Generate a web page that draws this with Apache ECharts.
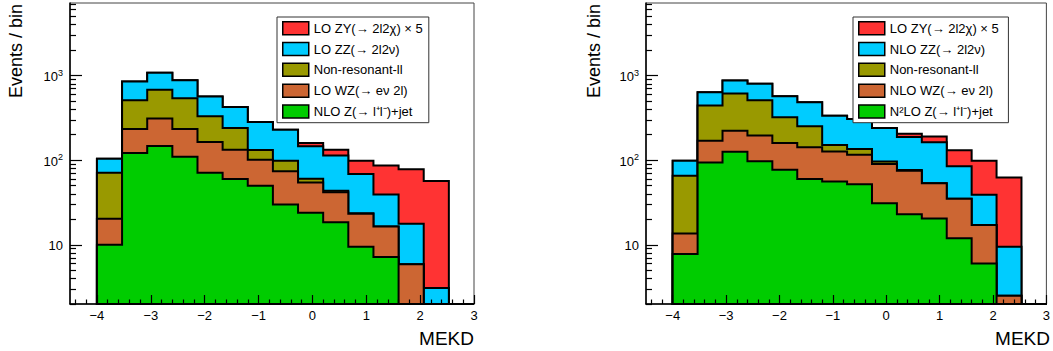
<!DOCTYPE html>
<html>
<head>
<meta charset="utf-8">
<script src="https://cdn.jsdelivr.net/npm/echarts@6/dist/echarts.min.js"></script>
<style>
  html, body { margin: 0; padding: 0; background: #fff; }
  #chart { width: 1053px; height: 351px; }
</style>
</head>
<body>
<div id="chart"></div>
<script>
// 15 bins from -4 to 3 in MEKD
const binEdges = Array.from({ length: 16 }, (_, i) => -4 + i * 7 / 15);

// left panel (per-process events per bin, stacked bottom -> top)
const zjetA   = [10, 122, 147, 110, 71, 60, 50, 30, 24, 18.5, 9.5, 7.2, 0, 0, 0];
const wzA     = [10.3, 112, 163, 124, 93, 73, 51, 44, 30.6, 23.3, 13.8, 9.3, 5.9, 0, 0];
const nonresA = [51, 277, 372, 304, 166, 107, 31, 24.6, 5.8, 1.7, 0.3, 0, 0, 0, 0];
const zzA     = [33, 338, 394, 341, 234, 186, 151, 131, 85.6, 70.5, 45.1, 22.9, 11.9, 3.1, 0];
const zyA     = [0, 0, 0, 0, 0, 0, 0, 0, 14, 19, 29.9, 47.3, 60.2, 53.7, 0];

// right panel
const zjetB   = [7.8, 94, 126, 97, 77, 60, 56, 52, 31, 23, 20.5, 12, 6, 0, 0];
const wzB     = [5.8, 76, 97, 99, 83, 82, 71, 64, 59, 52, 33, 23, 11.2, 2.5, 0];
const nonresB = [52, 272, 389, 315, 161, 109, 24, 20, 6.6, 1.4, 0, 0, 0, 0, 0];
const zzB     = [33, 192, 261, 287, 248, 232, 185, 171, 143, 111, 110, 50, 22, 7, 0];
const zyB     = [0, 0, 0, 0, 0, 0, 0, 0, 0, 18, 27, 46, 59.5, 53, 0];

// legend labels, top -> bottom
const namesA = ['LO ZY(→ 2l2χ) × 5', 'LO ZZ(→ 2l2ν)', 'Non-resonant-ll', 'LO WZ(→ eν 2l)', 'NLO Z(→ l⁺l⁻)+jet'];
const namesB = ['LO ZY(→ 2l2χ) × 5 ', 'NLO ZZ(→ 2l2ν)', 'Non-resonant-ll ', 'NLO WZ(→ eν 2l)', 'N²LO Z(→ l⁺l⁻)+jet'];
const colors = ['#ff3333', '#00ccff', '#999900', '#cc6633', '#00cc00'];

const xMajor = [-4, -3, -2, -1, 0, 1, 2, 3];
const xMinor = [];
for (let k = -22; k <= 15; k++) if (k % 5 !== 0) xMinor.push(k / 5);
const yMajor = [10, 100, 1000];
const yMinor = [2, 3, 4, 5, 6, 7, 8, 9, 20, 30, 40, 50, 60, 70, 80, 90, 200, 300, 400, 500, 600, 700, 800, 900, 2000, 3000, 4000, 5000, 6000, 7000];
const yMin = 2, yMax = 7200;

const font = 'Liberation Sans, Arial, sans-serif';

function stack(layers) {
  // layers bottom -> top, returns cumulative arrays in same order
  const out = [];
  let run = new Array(layers[0].length).fill(0);
  layers.forEach(l => {
    run = run.map((v, i) => v + l[i]);
    out.push(run.slice());
  });
  return out;
}

function stepItem(cum, color) {
  return function (params, api) {
    const pts = [api.coord([binEdges[0], yMin])];
    cum.forEach((v, i) => {
      const y = Math.max(v, yMin);
      pts.push(api.coord([binEdges[i], y]));
      pts.push(api.coord([binEdges[i + 1], y]));
    });
    pts.push(api.coord([binEdges[binEdges.length - 1], yMin]));
    return {
      type: 'polygon',
      shape: { points: pts },
      style: { fill: color, stroke: '#000', lineWidth: 2, lineJoin: 'miter' }
    };
  };
}

function panelSeries(p, layers, names) {
  const cum = stack(layers);          // green, orange, olive, blue, red
  const out = [];
  for (let k = 4; k >= 0; k--) {      // draw the total first so lower layers lie on top
    const idx = 4 - k;                // names / colors are listed top -> bottom
    out.push({
      type: 'custom',
      name: names[idx],
      xAxisIndex: 2 * p,
      yAxisIndex: 2 * p,
      data: [[binEdges[0], yMin]],
      encode: { x: 0, y: 1 },
      itemStyle: { color: colors[idx], borderColor: '#000', borderWidth: 1.5 },
      renderItem: stepItem(cum[k], colors[idx]),
      silent: true,
      animation: false
    });
  }
  return out;
}

function xAxes(p) {
  return [
    {
      type: 'value', gridIndex: p, min: -4.5, max: 3, position: 'bottom', z: 10,
      axisLine: { show: true, onZero: false, lineStyle: { color: '#000', width: 1.5 } },
      axisTick: { show: true, inside: true, length: 9, customValues: xMajor, lineStyle: { color: '#000', width: 1.2 } },
      axisLabel: {
        customValues: xMajor, margin: 5, fontSize: 13, color: '#000', fontFamily: font,
        formatter: v => String(v).replace('-', '\u2212')
      },
      splitLine: { show: false }
    },
    {
      type: 'value', gridIndex: p, min: -4.5, max: 3, position: 'bottom', z: 10,
      axisLine: { show: false, onZero: false },
      axisTick: { show: true, inside: true, length: 4.5, customValues: xMinor, lineStyle: { color: '#000', width: 1.2 } },
      axisLabel: { show: false },
      splitLine: { show: false }
    }
  ];
}

function yAxes(p) {
  return [
    {
      type: 'log', logBase: 10, gridIndex: p, min: yMin, max: yMax, position: 'left', z: 10,
      axisLine: { show: true, onZero: false, lineStyle: { color: '#000', width: 1.5 } },
      axisTick: { show: true, inside: true, length: 12, customValues: yMajor, lineStyle: { color: '#000', width: 1.2 } },
      axisLabel: {
        customValues: yMajor, margin: 7, color: '#000', fontFamily: font,
        formatter: v => {
          const e = Math.round(Math.log10(v));
          return e === 1 ? '{b|10}' : '{b|10}{sup|' + e + '}';
        },
        rich: {
          b: { fontSize: 13, fontFamily: font, color: '#000', lineHeight: 15, verticalAlign: 'bottom' },
          sup: { fontSize: 9, fontFamily: font, color: '#000', lineHeight: 9, verticalAlign: 'top' }
        }
      },
      splitLine: { show: false }
    },
    {
      type: 'log', logBase: 10, gridIndex: p, min: yMin, max: yMax, position: 'left', z: 10,
      axisLine: { show: false, onZero: false },
      axisTick: { show: true, inside: true, length: 6, customValues: yMinor, lineStyle: { color: '#000', width: 1.2 } },
      axisLabel: { show: false },
      splitLine: { show: false }
    }
  ];
}

function legendFor(left, names) {
  return {
    left: left, top: 17, orient: 'vertical', align: 'left',
    data: names,
    icon: 'rect', itemWidth: 26, itemHeight: 13, itemGap: 6.3,
    padding: [4, 6, 4, 5],
    backgroundColor: '#fff', borderColor: '#333', borderWidth: 1, borderRadius: 0,
    selectedMode: false,
    itemStyle: { borderColor: '#000', borderWidth: 1.5 },
    textStyle: { fontSize: 13, fontFamily: font, color: '#000' }
  };
}

const chart = echarts.init(document.getElementById('chart'), null, { renderer: 'svg' });
chart.setOption({
  animation: false,
  backgroundColor: '#fff',
  grid: [
    { left: 70, top: 3, width: 404, height: 301, show: true, borderColor: '#444', borderWidth: 1 },
    { left: 646, top: 3, width: 403, height: 301, show: true, borderColor: '#444', borderWidth: 1 }
  ],
  xAxis: xAxes(0).concat(xAxes(1)),
  yAxis: yAxes(0).concat(yAxes(1)),
  legend: [legendFor(277, namesA), legendFor(853, namesB)],
  series: panelSeries(0, [zjetA, wzA, nonresA, zzA, zyA], namesA)
    .concat(panelSeries(1, [zjetB, wzB, nonresB, zzB, zyB], namesB)),
  graphic: [
    { type: 'text', x: 16, y: 4, rotation: Math.PI / 2, style: { text: 'Events / bin', align: 'right', verticalAlign: 'middle', fontSize: 18, fontFamily: font, fill: '#000' } },
    { type: 'text', x: 594, y: 4, rotation: Math.PI / 2, style: { text: 'Events / bin', align: 'right', verticalAlign: 'middle', fontSize: 18, fontFamily: font, fill: '#000' } },
    { type: 'text', x: 474, y: 338, style: { text: 'MEKD', align: 'right', verticalAlign: 'middle', fontSize: 19, fontFamily: font, fill: '#000' } },
    { type: 'text', x: 1050, y: 338, style: { text: 'MEKD', align: 'right', verticalAlign: 'middle', fontSize: 19, fontFamily: font, fill: '#000' } }
  ]
});
</script>
</body>
</html>
